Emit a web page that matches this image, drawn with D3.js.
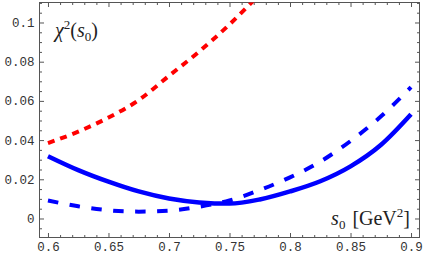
<!DOCTYPE html>
<html>
<head>
<meta charset="utf-8">
<script src="https://cdn.jsdelivr.net/npm/d3@7"></script>
<style>
  body { margin: 0; background: #fff; }
</style>
</head>
<body>
<div id="chart"></div>
<script>
// values
const sValues = [0.6, 0.625, 0.65, 0.675, 0.7, 0.725, 0.75, 0.775, 0.8, 0.825, 0.85, 0.875, 0.9]
const redDashed = [0.0385, 0.0443, 0.0515, 0.0604, 0.0728, 0.0852, 0.0990, 0.1145]
const blueSolid = [0.0318, 0.0247, 0.0188, 0.0138, 0.0102, 0.0082, 0.0076, 0.0097, 0.0138, 0.0190, 0.0266, 0.0375, 0.0532]
const blueDashed = [0.0092, 0.0062, 0.0042, 0.0035, 0.0040, 0.0060, 0.0092, 0.0145, 0.0210, 0.0290, 0.0395, 0.0520, 0.0670]

const xTicks = [0.6, 0.65, 0.7, 0.75, 0.8, 0.85, 0.9]
const xTickLabels = ['0.6', '0.65', '0.7', '0.75', '0.8', '0.85', '0.9']
const yTicks = [0, 0.02, 0.04, 0.06, 0.08, 0.1]
const yTickLabels = ['0', '0.02', '0.04', '0.06', '0.08', '0.1']

const width = 423, height = 255
const frame = { left: 39.5, right: 419.5, top: 2.5, bottom: 237.5 }
const mono = '"Liberation Mono", "DejaVu Sans Mono", monospace'

const svg = d3.select('#chart').append('svg')
    .attr('width', width)
    .attr('height', height)

const x = d3.scaleLinear().domain([0.593, 0.907]).range([frame.left, frame.right])
const y = d3.scaleLinear().domain([-0.0097, 0.1102]).range([frame.bottom, frame.top])

const xMinor = d3.range(0, 32).map(i => +(0.59 + i * 0.01).toFixed(3)).filter(v => v > 0.593 && v < 0.907 && !xTicks.includes(v))
const yMinor = d3.range(0, 25).map(i => +(-0.01 + i * 0.005).toFixed(4)).filter(v => v > -0.0097 && v < 0.1102 && !yTicks.some(t => Math.abs(t - v) < 1e-9))

const fmtX = d => xTickLabels[xTicks.indexOf(d)]
const fmtY = d => yTickLabels[yTicks.indexOf(d)]

function addAxis(axis, transform) {
  const g = svg.append('g').attr('transform', transform).call(axis)
  g.select('.domain').remove()
  g.selectAll('.tick line').attr('stroke', '#555')
  g.selectAll('.tick text')
      .attr('font-family', mono)
      .attr('font-size', 12.5)
      .attr('fill', '#333')
  return g
}

// bottom / left with labels
addAxis(d3.axisBottom(x).tickValues(xTicks).tickFormat(fmtX).tickSize(-4.5).tickPadding(5), `translate(0,${frame.bottom})`)
addAxis(d3.axisBottom(x).tickValues(xMinor).tickFormat('').tickSize(-2.5), `translate(0,${frame.bottom})`)
addAxis(d3.axisLeft(y).tickValues(yTicks).tickFormat(fmtY).tickSize(-4.5).tickPadding(5), `translate(${frame.left},0)`)
addAxis(d3.axisLeft(y).tickValues(yMinor).tickFormat('').tickSize(-2.5), `translate(${frame.left},0)`)
// top / right, ticks only
addAxis(d3.axisTop(x).tickValues(xTicks).tickFormat('').tickSize(-4.5), `translate(0,${frame.top})`)
addAxis(d3.axisTop(x).tickValues(xMinor).tickFormat('').tickSize(-2.5), `translate(0,${frame.top})`)
addAxis(d3.axisRight(y).tickValues(yTicks).tickFormat('').tickSize(-4.5), `translate(${frame.right},0)`)
addAxis(d3.axisRight(y).tickValues(yMinor).tickFormat('').tickSize(-2.5), `translate(${frame.right},0)`)

svg.append('rect')
    .attr('x', frame.left).attr('y', frame.top)
    .attr('width', frame.right - frame.left).attr('height', frame.bottom - frame.top)
    .attr('fill', 'none').attr('stroke', '#555').attr('stroke-width', 1)

svg.append('clipPath').attr('id', 'plot-clip')
  .append('rect')
    .attr('x', frame.left).attr('y', frame.top)
    .attr('width', frame.right - frame.left).attr('height', frame.bottom - frame.top)

const line = d3.line()
    .x((d, i) => x(sValues[i]))
    .y(d => y(d))
    .curve(d3.curveMonotoneX)

const plot = svg.append('g').attr('clip-path', 'url(#plot-clip)')

plot.append('path').datum(redDashed)
    .attr('d', line)
    .attr('fill', 'none').attr('stroke', '#ff0000')
    .attr('stroke-width', 4).attr('stroke-dasharray', '7,6')

plot.append('path').datum(blueDashed)
    .attr('d', line)
    .attr('fill', 'none').attr('stroke', '#0000ff')
    .attr('stroke-width', 4).attr('stroke-dasharray', '10.5,11.5')

plot.append('path').datum(blueSolid)
    .attr('d', line)
    .attr('fill', 'none').attr('stroke', '#0000ff')
    .attr('stroke-width', 4.5)

// axis titles
const serif = '"Liberation Serif", "DejaVu Serif", serif'
const yTitle = svg.append('text')
    .attr('x', 55).attr('y', 37)
    .attr('font-family', serif).attr('font-size', 20).attr('fill', '#222')
yTitle.append('tspan').attr('font-style', 'italic').text('χ')
yTitle.append('tspan').attr('font-size', 13).attr('dy', -8).text('2')
yTitle.append('tspan').attr('dy', 8).text('(')
yTitle.append('tspan').attr('font-style', 'italic').text('s')
yTitle.append('tspan').attr('font-size', 13).attr('dy', 4).text('0')
yTitle.append('tspan').attr('dy', -4).text(')')

const xTitle = svg.append('text')
    .attr('x', 410).attr('y', 225)
    .attr('text-anchor', 'end')
    .attr('font-family', serif).attr('font-size', 20).attr('fill', '#222')
xTitle.append('tspan').attr('font-style', 'italic').text('s')
xTitle.append('tspan').attr('font-size', 13).attr('dy', 4).text('0')
xTitle.append('tspan').attr('dy', -4).attr('dx', 7).text('[GeV')
xTitle.append('tspan').attr('font-size', 13).attr('dy', -8).text('2')
xTitle.append('tspan').attr('dy', 8).text(']')
</script>
</body>
</html>
